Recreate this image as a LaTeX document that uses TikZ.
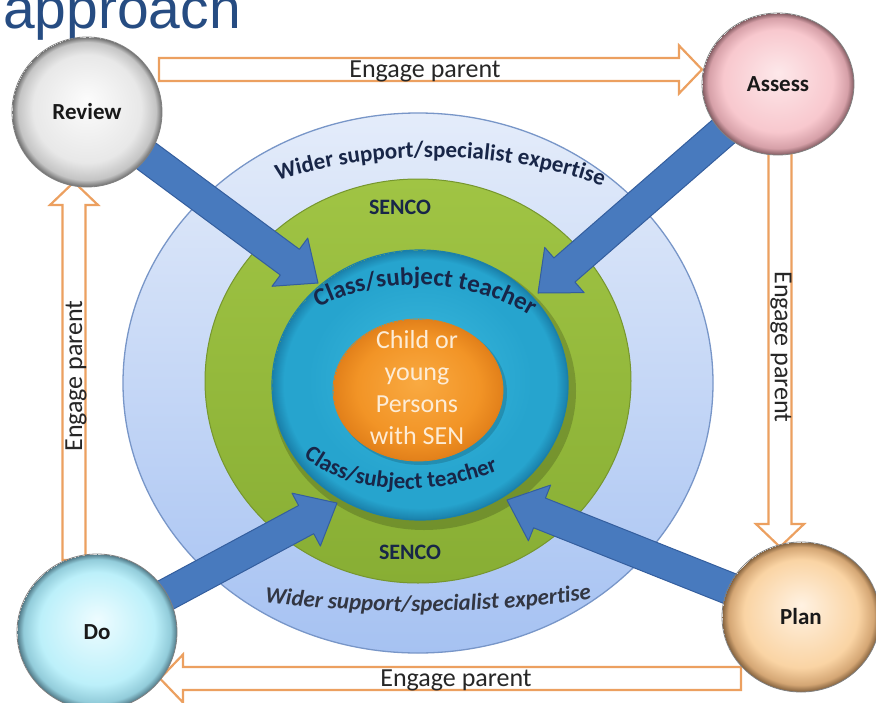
\documentclass[tikz,border=0pt]{standalone}
\usepackage{fontspec}
\setmainfont{Carlito}
\newfontfamily\titlefont{Liberation Sans}
\usetikzlibrary{calc,decorations.text,shapes.geometric}

\definecolor{titleblue}{RGB}{38,76,130}
\definecolor{outertop}{RGB}{228,236,250}
\definecolor{outerbot}{RGB}{166,194,242}
\definecolor{outerdraw}{RGB}{120,150,200}
\definecolor{greentop}{RGB}{160,196,68}
\definecolor{greenbot}{RGB}{136,174,52}
\definecolor{greendraw}{RGB}{118,150,46}
\definecolor{cyanA}{RGB}{60,186,222}
\definecolor{cyanB}{RGB}{38,164,206}
\definecolor{cyanC}{RGB}{26,128,170}
\definecolor{orangeA}{RGB}{249,170,66}
\definecolor{orangeB}{RGB}{242,148,38}
\definecolor{orangeC}{RGB}{226,128,26}
\definecolor{childtext}{RGB}{253,236,214}
\definecolor{ringtext}{RGB}{24,38,72}
\definecolor{bottext}{RGB}{50,54,66}
\definecolor{bluefill}{RGB}{72,122,190}
\definecolor{bluedraw}{RGB}{52,94,158}
\definecolor{hollowline}{RGB}{236,160,96}
\definecolor{rvA}{RGB}{252,252,252}
\definecolor{rvB}{RGB}{232,232,232}
\definecolor{rvC}{RGB}{196,196,196}
\definecolor{rvD}{RGB}{110,110,110}
\definecolor{asA}{RGB}{253,232,234}
\definecolor{asB}{RGB}{248,200,206}
\definecolor{asC}{RGB}{214,160,168}
\definecolor{asD}{RGB}{130,90,96}
\definecolor{doA}{RGB}{238,252,255}
\definecolor{doB}{RGB}{188,240,250}
\definecolor{doC}{RGB}{146,204,218}
\definecolor{doD}{RGB}{80,120,134}
\definecolor{plA}{RGB}{255,242,226}
\definecolor{plB}{RGB}{250,212,164}
\definecolor{plC}{RGB}{212,166,116}
\definecolor{plD}{RGB}{130,96,60}

\pgfdeclareradialshading{reviewball}{\pgfpoint{0bp}{4bp}}{color(0bp)=(rvA); color(18bp)=(rvB); color(23bp)=(rvC); color(25bp)=(rvD)}
\pgfdeclareradialshading{assessball}{\pgfpoint{0bp}{4bp}}{color(0bp)=(asA); color(18bp)=(asB); color(23bp)=(asC); color(25bp)=(asD)}
\pgfdeclareradialshading{doball}{\pgfpoint{0bp}{4bp}}{color(0bp)=(doA); color(18bp)=(doB); color(23bp)=(doC); color(25bp)=(doD)}
\pgfdeclareradialshading{planball}{\pgfpoint{0bp}{4bp}}{color(0bp)=(plA); color(18bp)=(plB); color(23bp)=(plC); color(25bp)=(plD)}
\pgfdeclareradialshading{cyanring}{\pgfpoint{0bp}{3bp}}{color(0bp)=(cyanA); color(19bp)=(cyanB); color(23bp)=(cyanB); color(25bp)=(cyanC)}
\pgfdeclareradialshading{orangering}{\pgfpoint{0bp}{3bp}}{color(0bp)=(orangeA); color(18bp)=(orangeB); color(25bp)=(orangeC)}

\tikzset{
  stagecircle/.style={ellipse, inner sep=0pt, shade, draw=black!50, line width=0.8pt,
    font=\bfseries\fontsize{23}{23}\selectfont, text=black!90},
  hollow/.style={fill=white, draw=hollowline, line width=2.2pt, line join=miter},
  bluebody/.style={fill=bluefill, draw=bluedraw, line width=1pt, line join=round},
  engage/.style={font=\fontsize{26}{26}\selectfont, text=black!85, inner sep=0pt},
  ringlabel/.style={font=\bfseries\fontsize{22}{22}\selectfont, text=ringtext, inner sep=0pt}
}

\newcommand\hollowarrow[2]{%
  \coordinate (#2-hb) at ($(#2)!23pt!(#1)$);
  \filldraw[hollow] ($(#1)!11.5pt!90:(#2)$) -- ($(#2-hb)!11.5pt!90:(#2)$)
    -- ($(#2-hb)!24pt!90:(#2)$) -- (#2) -- ($(#2-hb)!24pt!-90:(#2)$)
    -- ($(#2-hb)!11.5pt!-90:(#2)$) -- ($(#1)!11.5pt!-90:(#2)$) -- cycle;}

\newcommand\bluearrow[2]{%
  \coordinate (#2-hb) at ($(#2)!35pt!(#1)$);
  \filldraw[bluebody] ($(#1)!16pt!90:(#2)$) -- ($(#2-hb)!16pt!90:(#2)$)
    -- ($(#2-hb)!30pt!90:(#2)$) -- (#2) -- ($(#2-hb)!30pt!-90:(#2)$)
    -- ($(#2-hb)!16pt!-90:(#2)$) -- ($(#1)!16pt!-90:(#2)$) -- cycle;}

\begin{document}
\begin{tikzpicture}[x=1pt,y=-1pt]
\useasboundingbox (0,0) rectangle (876,702);
\clip (0,0) rectangle (876,702);
\fill[white] (0,0) rectangle (876,702);

% title (cut at the top)
\node[anchor=base west, inner sep=0pt, font=\titlefont\fontsize{57}{60}\selectfont, text=titleblue] (title) at (3,28) {approach};

% centres of the stage circles
\coordinate (c-review) at (87,112);
\coordinate (c-assess) at (778,84);
\coordinate (c-do) at (97,632);
\coordinate (c-plan) at (801,617);

% tips of the blue arrows
\coordinate (t-review) at (318,283);
\coordinate (t-assess) at (538,293);
\coordinate (t-do) at (337,503);
\coordinate (t-plan) at (507,500);

% hollow "Engage parent" arrows
\coordinate (topS) at (159,69.5);   \coordinate (topT) at (702,69.5);
\coordinate (rightS) at (780,150);  \coordinate (rightT) at (780,547);
\coordinate (botS) at (741,678.5);  \coordinate (botT) at (160,678.5);
\coordinate (leftS) at (74,560);    \coordinate (leftT) at (74,182);
\hollowarrow{topS}{topT}
\hollowarrow{rightS}{rightT}
\hollowarrow{botS}{botT}
\hollowarrow{leftS}{leftT}
\node[engage] (e-top) at (425,71) {Engage parent};
\node[engage, rotate=-90] (e-right) at (781,347) {Engage parent};
\node[engage] (e-bot) at (456,680) {Engage parent};
\node[engage, rotate=90] (e-left) at (76,376) {Engage parent};

% concentric rings
\node[ellipse, inner sep=0pt, minimum width=590pt, minimum height=540pt, draw=outerdraw, line width=1.3pt, top color=outertop, bottom color=outerbot] (outer) at (418,383) {};
\node[ellipse, inner sep=0pt, minimum width=426pt, minimum height=404pt, draw=greendraw, line width=1pt, top color=greentop, bottom color=greenbot] (senco) at (418,381) {};
\fill[black, opacity=0.18] (424,391) ellipse [x radius=152pt, y radius=139pt];
\node[ellipse, inner sep=0pt, minimum width=296pt, minimum height=270pt, draw=cyanC, line width=1.2pt, shade, shading=cyanring] (teacher) at (420,385) {};
\fill[black, opacity=0.15] (421,393) ellipse [x radius=86pt, y radius=72pt];
\node[ellipse, inner sep=0pt, minimum width=170pt, minimum height=142pt, draw=orangeC, line width=0.8pt, shade, shading=orangering] (child) at (418,390) {};
\node[align=center, font=\fontsize{26}{32}\selectfont, text=childtext, inner sep=0pt] (childtxt) at (417,388) {Child or\\young\\Persons\\with SEN};

% thick blue arrows
\bluearrow{c-review}{t-review}
\bluearrow{c-assess}{t-assess}
\bluearrow{c-do}{t-do}
\bluearrow{c-plan}{t-plan}

% ring labels
\path[decorate, decoration={text along path, text align=center,
  text={|\bfseries\fontsize{23}{23}\selectfont\color{ringtext}|Wider support/specialist expertise}}]
  (272,182) .. controls (380,148) and (500,148) .. (608,188);
\node[ringlabel] (senco-top) at (400,207) {SENCO};
\path[decorate, decoration={text along path, text align=center,
  text={|\bfseries\fontsize{25}{25}\selectfont\color{ringtext}|Class/subject teacher}}]
  (300,318) .. controls (370,272) and (475,272) .. (548,328);
\path[decorate, decoration={text along path, text align=center,
  text={|\bfseries\fontsize{23}{23}\selectfont\color{ringtext}|Class/subject teacher}}]
  (294,448) .. controls (340,496) and (432,502) .. (510,465);
\node[ringlabel] (senco-bot) at (410,552) {SENCO};
\path[decorate, decoration={text along path, text align=center,
  text={|\bfseries\itshape\fontsize{23}{23}\selectfont\color{bottext}|Wider support/specialist expertise}}]
  (258,602) .. controls (370,615) and (480,615) .. (598,598);

% stage circles
\node[stagecircle, shading=reviewball, minimum width=150pt, minimum height=150pt] (review) at (c-review) {Review};
\node[stagecircle, shading=assessball, minimum width=152pt, minimum height=142pt] (assess) at (c-assess) {Assess};
\node[stagecircle, shading=doball, minimum width=160pt, minimum height=156pt] (do) at (c-do) {Do};
\node[stagecircle, shading=planball, minimum width=158pt, minimum height=150pt] (plan) at (c-plan) {Plan};
\end{tikzpicture}
\end{document}
